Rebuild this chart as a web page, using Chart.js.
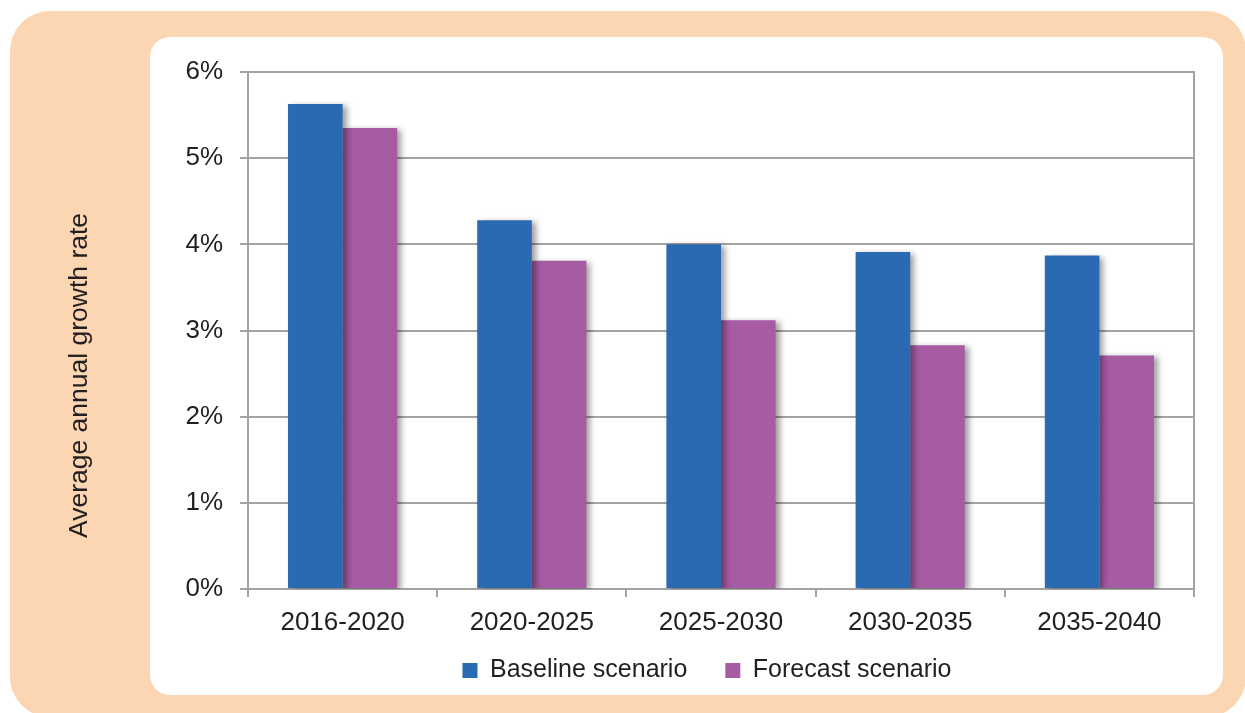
<!DOCTYPE html>
<html>
<head>
<meta charset="utf-8">
<title>Average annual growth rate</title>
<script src="https://cdn.jsdelivr.net/npm/chart.js@4/dist/chart.umd.min.js"></script>
<style>
    html, body { margin: 0; padding: 0; background: #fff; overflow: hidden; }
    body { width: 1245px; height: 713px; position: relative; }
    .frame {
        position: absolute; left: 10px; top: 11px; width: 1236px; height: 706px;
        background: #fcd5b2; border-radius: 40px;
    }
    .panel {
        position: absolute; left: 150px; top: 37px; width: 1073px; height: 658px;
        background: #fff; border-radius: 20px;
    }
    .wrap { position: absolute; left: 0; top: 0; width: 1245px; height: 713px; }
</style>
</head>
<body>
<div class="frame"></div>
<div class="panel"></div>
<div class="wrap"><canvas id="growthChart" width="1245" height="713"></canvas></div>
<script>
// 데이터
const periods = ['2016-2020', '2020-2025', '2025-2030', '2030-2035', '2035-2040'];
const baseline = [5.63, 4.28, 4.00, 3.91, 3.87];
const forecast = [5.35, 3.81, 3.12, 2.83, 2.71];
const seriesNames = ['Baseline scenario', 'Forecast scenario'];
const yTicks = [0, 1, 2, 3, 4, 5, 6];
const yTitle = 'Average annual growth rate';

const colors = { baseline: '#2a6ab3', forecast: '#a65ba3', grid: '#a3a3a5', text: '#231f20' };
const fontFamily = '"Liberation Sans", Arial, sans-serif';

// 막대 그림자
const barShadow = {
    id: 'barShadow',
    beforeDatasetsDraw(chart) {
        const ctx = chart.ctx;
        ctx.save();
        ctx.shadowColor = 'rgba(0, 0, 0, 0.38)';
        ctx.shadowBlur = 6;
        ctx.shadowOffsetX = 4;
        ctx.shadowOffsetY = 2;
    },
    afterDatasetsDraw(chart) {
        chart.ctx.restore();
    }
};

// 오른쪽 테두리
const rightBorder = {
    id: 'rightBorder',
    beforeDatasetsDraw(chart) {
        const { ctx, chartArea } = chart;
        ctx.save();
        ctx.strokeStyle = colors.grid;
        ctx.lineWidth = 2;
        ctx.beginPath();
        ctx.moveTo(chartArea.right, chartArea.top - 1);
        ctx.lineTo(chartArea.right, chartArea.bottom);
        ctx.stroke();
        ctx.restore();
    }
};

// 세로축 제목 (주황색 테두리 위)
const axisTitle = {
    id: 'axisTitle',
    afterDraw(chart) {
        const { ctx, chartArea } = chart;
        ctx.save();
        ctx.translate(chartArea.left - 168, (chartArea.top + chartArea.bottom) / 2 + 45);
        ctx.rotate(-Math.PI / 2);
        ctx.fillStyle = colors.text;
        ctx.font = '26.5px ' + fontFamily;
        ctx.textAlign = 'center';
        ctx.textBaseline = 'middle';
        ctx.fillText(yTitle, 0, 0);
        ctx.restore();
    }
};

// 범례 위치 조정
const legendPlace = {
    id: 'legendPlace',
    afterLayout(chart) {
        const lg = chart.legend;
        lg.left = chart.chartArea.left - 14;
        lg.right = chart.chartArea.right - 14;
        lg.top = chart.chartArea.bottom + 31;
    }
};

new Chart(document.getElementById('growthChart'), {
    type: 'bar',
    data: {
        labels: periods,
        datasets: [{
            label: seriesNames[0],
            data: baseline,
            backgroundColor: colors.baseline
        }, {
            label: seriesNames[1],
            data: forecast,
            backgroundColor: colors.forecast
        }]
    },
    options: {
        responsive: false,
        animation: false,
        devicePixelRatio: 1,
        layout: { padding: { left: 58, right: 51, top: 72, bottom: 3 } },
        datasets: { bar: { categoryPercentage: 0.577, barPercentage: 1.0 } },
        plugins: {
            tooltip: { enabled: false },
            legend: {
                position: 'bottom',
                labels: {
                    boxWidth: 15,
                    boxHeight: 15,
                    padding: 38,
                    color: colors.text,
                    font: { family: fontFamily, size: 25 }
                }
            }
        },
        scales: {
            x: {
                grid: { display: true, drawOnChartArea: false, tickLength: 8, tickColor: colors.grid, lineWidth: 2, offset: true },
                border: { color: colors.grid, width: 2 },
                ticks: { color: colors.text, padding: 10, font: { family: fontFamily, size: 26 } },
                afterFit(scale) { scale.height = 48; }
            },
            y: {
                min: 0,
                max: 6,
                afterBuildTicks(scale) { scale.ticks = yTicks.map(v => ({ value: v })); },
                grid: { color: colors.grid, lineWidth: 2, tickLength: 8, tickColor: colors.grid },
                border: { color: colors.grid, width: 2 },
                ticks: {
                    color: colors.text,
                    padding: 17,
                    font: { family: fontFamily, size: 26 },
                    callback: v => v + '%'
                },
                afterFit(scale) { scale.width = 190; }
            }
        }
    },
    plugins: [rightBorder, barShadow, legendPlace, axisTitle]
});
</script>
</body>
</html>
